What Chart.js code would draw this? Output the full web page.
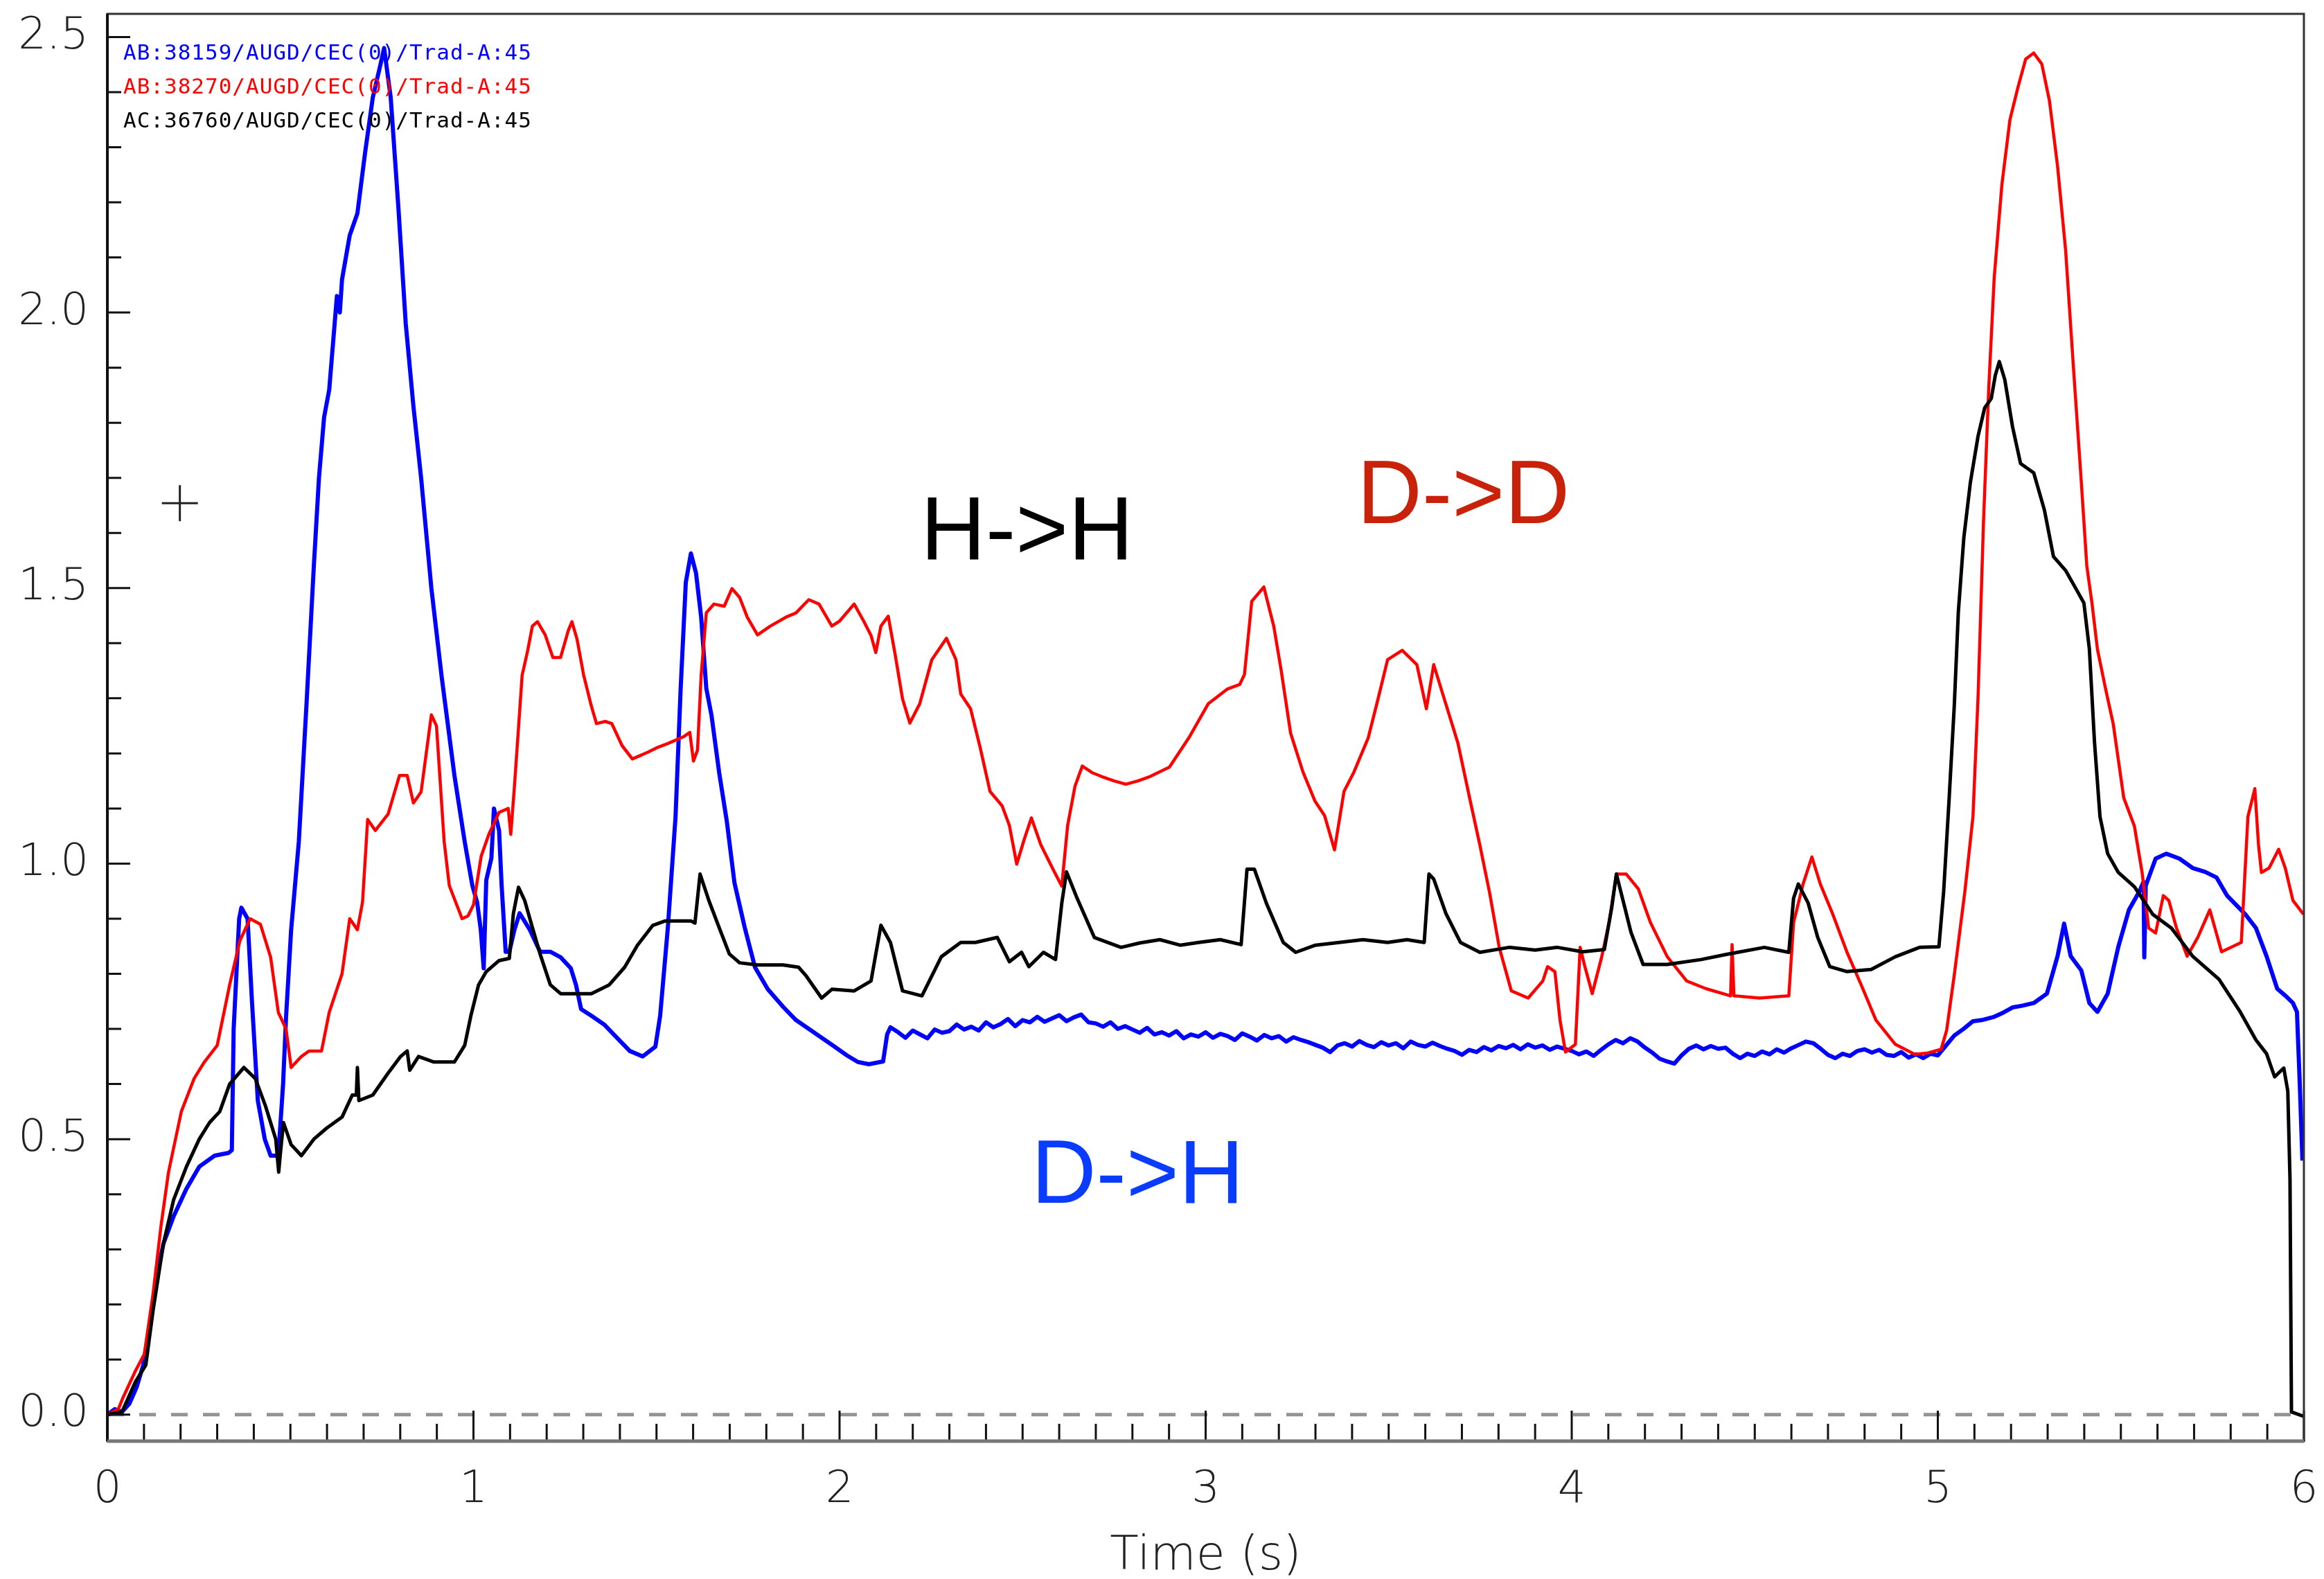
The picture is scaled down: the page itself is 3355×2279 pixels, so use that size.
<!DOCTYPE html>
<html>
<head>
<meta charset="utf-8">
<title>Trad-A:45</title>
<script src="https://cdn.jsdelivr.net/npm/chart.js@4.4.1/dist/chart.umd.min.js"></script>
<style>
  html, body { margin: 0; padding: 0; background: #fff; }
  #wrap { width: 3355px; height: 2279px; }
</style>
</head>
<body>
<div id="wrap"><canvas id="trad" width="3355" height="2279"></canvas></div>
<script>
// AB:38159 (D->H)
const blueTime = [
  0.000, 0.020, 0.040, 0.060, 0.080, 0.098, 0.115, 0.132, 0.153, 0.181, 0.216, 0.251, 0.293, 0.331, 0.340,
  0.345, 0.360, 0.366, 0.383, 0.395, 0.411, 0.430, 0.446, 0.467, 0.480, 0.488, 0.502, 0.523, 0.544, 0.564,
  0.578, 0.592, 0.606, 0.627, 0.635, 0.641, 0.662, 0.683, 0.704, 0.725, 0.746, 0.756, 0.774, 0.795, 0.815,
  0.836, 0.857, 0.885, 0.913, 0.948, 0.976, 0.997, 1.010, 1.020, 1.028, 1.035, 1.049, 1.056, 1.063, 1.070,
  1.077, 1.088, 1.098, 1.112, 1.126, 1.154, 1.182, 1.210, 1.238, 1.266, 1.280, 1.294, 1.322, 1.357, 1.392,
  1.427, 1.462, 1.497, 1.510, 1.531, 1.552, 1.566, 1.580, 1.594, 1.608, 1.622, 1.636, 1.650, 1.671, 1.692,
  1.713, 1.741, 1.769, 1.804, 1.846, 1.881, 1.916, 1.951, 1.986, 2.020, 2.050, 2.080, 2.119, 2.130, 2.139,
  2.16, 2.18, 2.20, 2.22, 2.24, 2.26, 2.28, 2.30, 2.32, 2.34, 2.36, 2.38, 2.40, 2.42, 2.44, 2.46, 2.48,
  2.50, 2.52, 2.54, 2.56, 2.58, 2.60, 2.62, 2.64, 2.66, 2.68, 2.70, 2.72, 2.74, 2.76, 2.78, 2.80, 2.82,
  2.84, 2.86, 2.88, 2.90, 2.92, 2.94, 2.96, 2.98, 3.00, 3.02, 3.04, 3.06, 3.08, 3.10, 3.12, 3.14, 3.16,
  3.18, 3.20, 3.22, 3.24, 3.26, 3.28, 3.30, 3.32, 3.34, 3.36, 3.38, 3.40, 3.42, 3.44, 3.46, 3.48, 3.50,
  3.52, 3.54, 3.56, 3.58, 3.60, 3.62, 3.64, 3.66, 3.68, 3.70, 3.72, 3.74, 3.76, 3.78, 3.80, 3.82, 3.84,
  3.86, 3.88, 3.90, 3.92, 3.94, 3.96, 3.98, 4.00, 4.02, 4.04, 4.06, 4.08, 4.10, 4.12, 4.14, 4.16, 4.18,
  4.20, 4.22, 4.24, 4.26, 4.28, 4.30, 4.32, 4.34, 4.36, 4.38, 4.40, 4.42, 4.44, 4.46, 4.48, 4.50, 4.52,
  4.54, 4.56, 4.58, 4.60, 4.62, 4.64, 4.66, 4.68, 4.70, 4.72, 4.74, 4.76, 4.78, 4.80, 4.82, 4.84, 4.86,
  4.88, 4.90, 4.92, 4.94, 4.96, 4.98, 5.00, 5.02, 5.045, 5.07, 5.096, 5.12, 5.154, 5.18, 5.204, 5.23,
  5.262, 5.298, 5.327, 5.345, 5.363, 5.392, 5.414, 5.436, 5.464, 5.493, 5.522, 5.551, 5.562, 5.564, 5.568,
  5.595, 5.624, 5.660, 5.696, 5.730, 5.761, 5.790, 5.840, 5.869, 5.898, 5.927, 5.950, 5.970, 5.981, 5.988,
  5.996
];
const blueSignal = [
  0.000, 0.010, 0.005, 0.020, 0.050, 0.090, 0.160, 0.240, 0.310, 0.360, 0.410, 0.450, 0.470, 0.475, 0.480,
  0.700, 0.900, 0.920, 0.900, 0.750, 0.570, 0.500, 0.470, 0.470, 0.600, 0.720, 0.880, 1.040, 1.290, 1.540,
  1.700, 1.810, 1.860, 2.030, 2.000, 2.060, 2.140, 2.180, 2.290, 2.390, 2.450, 2.480, 2.390, 2.190, 1.980,
  1.830, 1.700, 1.500, 1.340, 1.160, 1.040, 0.960, 0.930, 0.880, 0.810, 0.970, 1.010, 1.100, 1.080, 1.060,
  0.960, 0.840, 0.840, 0.880, 0.910, 0.880, 0.840, 0.840, 0.830, 0.810, 0.780, 0.736, 0.724, 0.708, 0.684,
  0.660, 0.650, 0.668, 0.724, 0.884, 1.085, 1.318, 1.510, 1.563, 1.527, 1.447, 1.318, 1.270, 1.166, 1.077,
  0.965, 0.884, 0.812, 0.772, 0.740, 0.716, 0.700, 0.684, 0.668, 0.652, 0.640, 0.636, 0.641, 0.690, 0.703,
  0.694, 0.684, 0.697, 0.690, 0.683, 0.699, 0.693, 0.696, 0.708, 0.699, 0.704, 0.697, 0.712, 0.703, 0.709, 0.718, 0.705,
  0.716, 0.712, 0.722, 0.713, 0.719, 0.725, 0.714, 0.721, 0.726, 0.712, 0.710, 0.704, 0.712, 0.700, 0.705, 0.699, 0.693,
  0.702, 0.690, 0.694, 0.688, 0.696, 0.683, 0.690, 0.686, 0.694, 0.684, 0.691, 0.687, 0.680, 0.692, 0.686, 0.679, 0.689,
  0.683, 0.687, 0.677, 0.685, 0.680, 0.676, 0.671, 0.666, 0.658, 0.670, 0.674, 0.668, 0.678, 0.671, 0.667, 0.676, 0.670,
  0.674, 0.665, 0.677, 0.671, 0.668, 0.675, 0.669, 0.664, 0.660, 0.653, 0.662, 0.658, 0.667, 0.661, 0.669, 0.665, 0.671,
  0.663, 0.672, 0.666, 0.670, 0.662, 0.668, 0.664, 0.660, 0.654, 0.659, 0.651, 0.662, 0.672, 0.680, 0.674, 0.683, 0.677,
  0.666, 0.657, 0.646, 0.641, 0.637, 0.652, 0.664, 0.670, 0.663, 0.669, 0.664, 0.666, 0.655, 0.647, 0.655, 0.651, 0.659,
  0.654, 0.663, 0.657, 0.665, 0.671, 0.677, 0.674, 0.664, 0.653, 0.647, 0.655, 0.651, 0.660, 0.663, 0.657, 0.662, 0.653,
  0.651, 0.658, 0.648, 0.654, 0.647, 0.655, 0.652, 0.668, 0.688, 0.700, 0.714, 0.716, 0.722, 0.730, 0.739, 0.742,
  0.747, 0.764, 0.832, 0.891, 0.832, 0.806, 0.747, 0.731, 0.764, 0.849, 0.916, 0.950, 0.967, 0.830, 0.960,
  1.009, 1.018, 1.009, 0.992, 0.985, 0.975, 0.942, 0.908, 0.883, 0.832, 0.773, 0.760, 0.747, 0.731, 0.613,
  0.461
];

// AB:38270 (D->D)
const redTime = [
  0.000, 0.030, 0.042, 0.077, 0.101, 0.125, 0.146, 0.167, 0.202, 0.237, 0.265, 0.300, 0.334, 0.362, 0.390,
  0.418, 0.446, 0.467, 0.488, 0.502, 0.530, 0.551, 0.585, 0.606, 0.641, 0.662, 0.683, 0.697, 0.711, 0.732,
  0.767, 0.798, 0.819, 0.836, 0.857, 0.885, 0.899, 0.920, 0.934, 0.969, 0.985, 1.000, 1.021, 1.042, 1.070,
  1.095, 1.102, 1.112, 1.123, 1.133, 1.147, 1.161, 1.175, 1.196, 1.217, 1.238, 1.259, 1.269, 1.283, 1.301,
  1.322, 1.336, 1.360, 1.378, 1.406, 1.434, 1.455, 1.476, 1.500, 1.531, 1.573, 1.591, 1.601, 1.612, 1.622,
  1.636, 1.657, 1.685, 1.706, 1.727, 1.748, 1.776, 1.811, 1.853, 1.881, 1.916, 1.944, 1.979, 2.000, 2.040,
  2.066, 2.086, 2.099, 2.113, 2.133, 2.152, 2.172, 2.192, 2.219, 2.252, 2.292, 2.318, 2.331, 2.358, 2.384,
  2.411, 2.444, 2.464, 2.484, 2.504, 2.524, 2.550, 2.583, 2.607, 2.623, 2.643, 2.663, 2.690, 2.716, 2.750,
  2.782, 2.815, 2.848, 2.901, 2.954, 3.007, 3.060, 3.093, 3.106, 3.126, 3.159, 3.186, 3.206, 3.232, 3.266,
  3.299, 3.325, 3.352, 3.378, 3.405, 3.444, 3.471, 3.497, 3.537, 3.577, 3.603, 3.623, 3.656, 3.689, 3.723,
  3.749, 3.776, 3.802, 3.835, 3.881, 3.921, 3.934, 3.954, 3.968, 3.983, 4.010, 4.023, 4.036, 4.056, 4.082,
  4.102, 4.122, 4.149, 4.182, 4.215, 4.261, 4.314, 4.367, 4.434, 4.438, 4.443, 4.513, 4.593, 4.606, 4.632,
  4.656, 4.679, 4.712, 4.752, 4.792, 4.831, 4.884, 4.937, 4.970, 5.009, 5.024, 5.045, 5.074, 5.096, 5.110,
  5.125, 5.139, 5.154, 5.175, 5.197, 5.219, 5.240, 5.262, 5.284, 5.305, 5.327, 5.349, 5.371, 5.392, 5.407,
  5.421, 5.436, 5.457, 5.479, 5.508, 5.537, 5.558, 5.576, 5.595, 5.616, 5.631, 5.652, 5.681, 5.710, 5.743,
  5.757, 5.775, 5.804, 5.829, 5.847, 5.866, 5.876, 5.884, 5.905, 5.931, 5.949, 5.970, 5.999
];
const redSignal = [
  0.000, 0.010, 0.030, 0.080, 0.110, 0.220, 0.340, 0.440, 0.550, 0.610, 0.640, 0.670, 0.780, 0.860, 0.900,
  0.890, 0.830, 0.730, 0.700, 0.630, 0.650, 0.660, 0.660, 0.730, 0.800, 0.900, 0.880, 0.930, 1.080, 1.060,
  1.090, 1.160, 1.160, 1.110, 1.130, 1.270, 1.250, 1.040, 0.960, 0.900, 0.905, 0.925, 1.013, 1.053, 1.093,
  1.100, 1.053, 1.141, 1.246, 1.342, 1.383, 1.431, 1.439, 1.415, 1.374, 1.374, 1.423, 1.439, 1.407, 1.342,
  1.286, 1.254, 1.258, 1.254, 1.214, 1.190, 1.196, 1.202, 1.210, 1.218, 1.230, 1.238, 1.186, 1.206, 1.342,
  1.455, 1.471, 1.467, 1.499, 1.483, 1.447, 1.415, 1.431, 1.447, 1.455, 1.479, 1.471, 1.431, 1.440, 1.471,
  1.440, 1.414, 1.383, 1.431, 1.449, 1.379, 1.299, 1.255, 1.290, 1.370, 1.409, 1.370, 1.308, 1.281, 1.211,
  1.131, 1.105, 1.069, 0.999, 1.043, 1.083, 1.034, 0.990, 0.959, 1.069, 1.140, 1.177, 1.165, 1.158, 1.150,
  1.144, 1.150, 1.158, 1.175, 1.228, 1.290, 1.317, 1.325, 1.343, 1.476, 1.502, 1.431, 1.352, 1.237, 1.166,
  1.113, 1.087, 1.025, 1.131, 1.166, 1.228, 1.299, 1.370, 1.387, 1.361, 1.281, 1.361, 1.290, 1.219, 1.113,
  1.034, 0.946, 0.848, 0.769, 0.756, 0.787, 0.813, 0.804, 0.716, 0.658, 0.672, 0.848, 0.813, 0.764, 0.831,
  0.893, 0.981, 0.981, 0.954, 0.893, 0.831, 0.787, 0.773, 0.760, 0.853, 0.760, 0.756, 0.760, 0.893, 0.963,
  1.012, 0.963, 0.910, 0.839, 0.778, 0.716, 0.672, 0.654, 0.656, 0.663, 0.697, 0.798, 0.950, 1.085, 1.304,
  1.625, 1.861, 2.063, 2.232, 2.350, 2.409, 2.460, 2.471, 2.451, 2.384, 2.266, 2.114, 1.895, 1.692, 1.540,
  1.473, 1.389, 1.321, 1.254, 1.119, 1.068, 0.984, 0.883, 0.874, 0.942, 0.933, 0.883, 0.832, 0.866, 0.916,
  0.883, 0.840, 0.849, 0.857, 1.085, 1.136, 1.034, 0.984, 0.992, 1.026, 0.992, 0.933, 0.908
];

// AC:36760 (H->H)
const blackTime = [
  0.000, 0.040, 0.077, 0.105, 0.125, 0.153, 0.181, 0.216, 0.251, 0.279, 0.307, 0.334, 0.373, 0.404, 0.432,
  0.460, 0.468, 0.472, 0.481, 0.502, 0.530, 0.564, 0.599, 0.641, 0.669, 0.680, 0.683, 0.687, 0.725, 0.767,
  0.801, 0.819, 0.826, 0.850, 0.892, 0.948, 0.976, 0.993, 1.014, 1.035, 1.070, 1.098, 1.109, 1.123, 1.140,
  1.161, 1.182, 1.210, 1.238, 1.287, 1.322, 1.371, 1.413, 1.448, 1.490, 1.524, 1.566, 1.594, 1.605, 1.619,
  1.643, 1.671, 1.699, 1.727, 1.776, 1.846, 1.888, 1.909, 1.951, 1.979, 2.040, 2.086, 2.113, 2.139, 2.172,
  2.225, 2.278, 2.331, 2.371, 2.431, 2.464, 2.497, 2.517, 2.557, 2.590, 2.607, 2.620, 2.649, 2.696, 2.769,
  2.820, 2.875, 2.930, 2.981, 3.040, 3.097, 3.113, 3.133, 3.166, 3.212, 3.246, 3.300, 3.365, 3.430, 3.497,
  3.550, 3.597, 3.610, 3.623, 3.656, 3.696, 3.749, 3.829, 3.900, 3.961, 4.030, 4.089, 4.109, 4.122, 4.142,
  4.162, 4.195, 4.261, 4.354, 4.420, 4.526, 4.593, 4.606, 4.619, 4.646, 4.672, 4.705, 4.752, 4.818, 4.884,
  4.950, 5.003, 5.016, 5.031, 5.045, 5.056, 5.071, 5.089, 5.110, 5.128, 5.146, 5.157, 5.168, 5.183, 5.204,
  5.226, 5.262, 5.291, 5.316, 5.349, 5.378, 5.399, 5.414, 5.428, 5.443, 5.464, 5.493, 5.537, 5.587, 5.638,
  5.696, 5.768, 5.826, 5.869, 5.898, 5.920, 5.945, 5.956, 5.962, 5.966, 5.999
];
const blackSignal = [
  0.000, 0.005, 0.060, 0.090, 0.190, 0.310, 0.390, 0.450, 0.500, 0.530, 0.550, 0.600, 0.630, 0.610, 0.560,
  0.500, 0.440, 0.470, 0.530, 0.490, 0.470, 0.500, 0.520, 0.540, 0.580, 0.580, 0.630, 0.570, 0.580, 0.620,
  0.650, 0.660, 0.625, 0.650, 0.640, 0.640, 0.670, 0.724, 0.780, 0.804, 0.824, 0.828, 0.909, 0.957, 0.933,
  0.884, 0.836, 0.780, 0.764, 0.764, 0.764, 0.780, 0.812, 0.852, 0.888, 0.896, 0.896, 0.896, 0.892, 0.981,
  0.933, 0.884, 0.836, 0.820, 0.816, 0.816, 0.812, 0.796, 0.756, 0.772, 0.769, 0.787, 0.888, 0.857, 0.769,
  0.760, 0.831, 0.857, 0.857, 0.866, 0.822, 0.839, 0.813, 0.839, 0.826, 0.928, 0.985, 0.937, 0.866, 0.848,
  0.856, 0.862, 0.852, 0.857, 0.862, 0.853, 0.990, 0.990, 0.928, 0.857, 0.839, 0.852, 0.857, 0.862, 0.857,
  0.862, 0.857, 0.981, 0.972, 0.910, 0.857, 0.839, 0.848, 0.843, 0.848, 0.840, 0.844, 0.919, 0.981, 0.928,
  0.875, 0.817, 0.817, 0.826, 0.835, 0.848, 0.839, 0.937, 0.963, 0.928, 0.866, 0.813, 0.804, 0.808, 0.831,
  0.848, 0.849, 0.950, 1.119, 1.287, 1.456, 1.591, 1.692, 1.776, 1.827, 1.844, 1.886, 1.911, 1.878, 1.793,
  1.726, 1.709, 1.642, 1.557, 1.532, 1.498, 1.473, 1.389, 1.220, 1.085, 1.018, 0.984, 0.958, 0.908, 0.883,
  0.832, 0.790, 0.731, 0.680, 0.655, 0.613, 0.629, 0.587, 0.427, 0.005, -0.003
];

// "+" cursor mark
const crossTime = [0.198];
const crossSignal = [1.654];

const legendLines = [
  'AB:38159/AUGD/CEC(0)/Trad-A:45',
  'AB:38270/AUGD/CEC(0)/Trad-A:45',
  'AC:36760/AUGD/CEC(0)/Trad-A:45'
];
const xTickValues = [0, 1, 2, 3, 4, 5, 6];
const yTickValues = [0, 0.5, 1.0, 1.5, 2.0, 2.5];

// big in-plot tags
const tagText = ['H->H', 'D->D', 'D->H'];
const tagTime = [2.512, 3.704, 2.814];
const tagLevel = [1.553, 1.618, 0.384];

function toPoints(times, values) {
  return times.map((t, i) => ({ x: t, y: values[i] }));
}

const tickFont = { family: 'DejaVu Sans', size: 64, weight: 200 };
const PLOT_TOP = 20;

// frame, inward ticks, zero line, legend and tags drawn in the IDL look
const idlFrame = {
  id: 'idlFrame',
  afterLayout(chart) {
    // pin the top of the plot box, the label overhang would push it down
    const a = chart.chartArea;
    const y = chart.scales.y;
    a.top = PLOT_TOP;
    a.height = a.bottom - a.top;
    y.top = PLOT_TOP;
    y.height = y.bottom - y.top;
    y.configure();
  },
  beforeDatasetsDraw(chart) {
    const { ctx, chartArea, scales } = chart;
    const y0 = scales.y.getPixelForValue(0);
    ctx.save();
    ctx.strokeStyle = '#939393';
    ctx.lineWidth = 5;
    ctx.setLineDash([24, 22]);
    ctx.beginPath();
    ctx.moveTo(chartArea.left, y0);
    ctx.lineTo(chartArea.right, y0);
    ctx.stroke();
    ctx.restore();
  },
  afterDatasetsDraw(chart) {
    const { ctx, chartArea: a, scales } = chart;
    ctx.save();

    // ticks
    ctx.strokeStyle = '#111';
    ctx.lineWidth = 3;
    ctx.beginPath();
    for (let i = 0; i <= 60; i++) {
      const px = scales.x.getPixelForValue(i / 10);
      const len = i % 10 === 0 ? 44 : 25;
      ctx.moveTo(px, a.bottom);
      ctx.lineTo(px, a.bottom - len);
    }
    for (let i = 0; i <= 25; i++) {
      const py = scales.y.getPixelForValue(i / 10);
      const len = i % 5 === 0 ? 33 : 20;
      ctx.moveTo(a.left, py);
      ctx.lineTo(a.left + len, py);
    }
    ctx.stroke();

    // box
    ctx.strokeStyle = '#333';
    ctx.lineWidth = 3;
    ctx.strokeRect(a.left, a.top, a.right - a.left, a.bottom - a.top);
    ctx.strokeStyle = '#111';
    ctx.lineWidth = 4;
    ctx.beginPath();
    ctx.moveTo(a.left, a.top);
    ctx.lineTo(a.left, a.bottom);
    ctx.stroke();
    ctx.strokeStyle = '#777';
    ctx.lineWidth = 5;
    ctx.beginPath();
    ctx.moveTo(a.left, a.bottom);
    ctx.lineTo(a.right, a.bottom);
    ctx.stroke();

    // legend lines, one per shot
    ctx.font = '31px "DejaVu Sans Mono"';
    ctx.letterSpacing = '1px';
    ctx.textAlign = 'left';
    ctx.textBaseline = 'alphabetic';
    chart.data.datasets.slice(0, 3).forEach((ds, i) => {
      ctx.fillStyle = ds.borderColor;
      ctx.fillText(legendLines[i], a.left + 23, a.top + 66 + i * 49);
    });
    ctx.letterSpacing = '0px';

    // tags
    const tagColor = ['#000000', '#c8230a', '#0a3cff'];
    ctx.font = '130px "Liberation Sans"';
    ctx.textAlign = 'center';
    tagText.forEach((txt, i) => {
      ctx.fillStyle = tagColor[i];
      ctx.fillText(txt, scales.x.getPixelForValue(tagTime[i]), scales.y.getPixelForValue(tagLevel[i]));
    });
    ctx.restore();
  }
};

const ctx = document.getElementById('trad').getContext('2d');
new Chart(ctx, {
  type: 'line',
  data: {
    datasets: [
      { label: legendLines[0], data: toPoints(blueTime, blueSignal), borderColor: '#0000ff', borderWidth: 6, order: 3 },
      { label: legendLines[1], data: toPoints(redTime, redSignal), borderColor: '#ff0000', borderWidth: 4.5, order: 2 },
      { label: legendLines[2], data: toPoints(blackTime, blackSignal), borderColor: '#000000', borderWidth: 5, order: 1 },
      {
        label: '+',
        data: toPoints(crossTime, crossSignal),
        showLine: false,
        pointStyle: 'cross',
        pointRadius: 26,
        pointBorderWidth: 3,
        pointBorderColor: '#222',
        borderColor: '#222',
        order: 0
      }
    ]
  },
  options: {
    responsive: false,
    animation: false,
    events: [],
    layout: { padding: { top: 20, right: 23, bottom: 0, left: 0 } },
    elements: {
      line: { borderWidth: 4, tension: 0, fill: false, borderJoinStyle: 'round' },
      point: { radius: 0 }
    },
    plugins: {
      legend: { display: false },
      tooltip: { enabled: false }
    },
    scales: {
      x: {
        type: 'linear',
        min: 0,
        max: 6,
        grid: { display: false, drawTicks: false },
        border: { display: false },
        afterBuildTicks: (scale) => { scale.ticks = xTickValues.map(v => ({ value: v })); },
        afterFit: (scale) => { scale.height = 199; scale.paddingLeft = 0; scale.paddingRight = 0; },
        ticks: {
          autoSkip: false,
          maxRotation: 0,
          padding: 33,
          color: '#222',
          font: tickFont,
          callback: (v) => String(v)
        },
        title: {
          display: true,
          text: 'Time (s)',
          color: '#222',
          font: { family: 'DejaVu Sans', size: 68, weight: 200 },
          padding: { top: 0, bottom: -9 }
        }
      },
      y: {
        type: 'linear',
        min: -0.048,
        max: 2.542,
        grid: { display: false, drawTicks: false },
        border: { display: false },
        afterBuildTicks: (scale) => { scale.ticks = yTickValues.map(v => ({ value: v })); },
        afterFit: (scale) => { scale.width = 155; scale.paddingTop = 0; scale.paddingBottom = 0; },
        ticks: {
          autoSkip: false,
          padding: 27,
          color: '#222',
          font: tickFont,
          callback: (v) => Number(v).toFixed(1)
        }
      }
    }
  },
  plugins: [idlFrame]
});
</script>
</body>
</html>
